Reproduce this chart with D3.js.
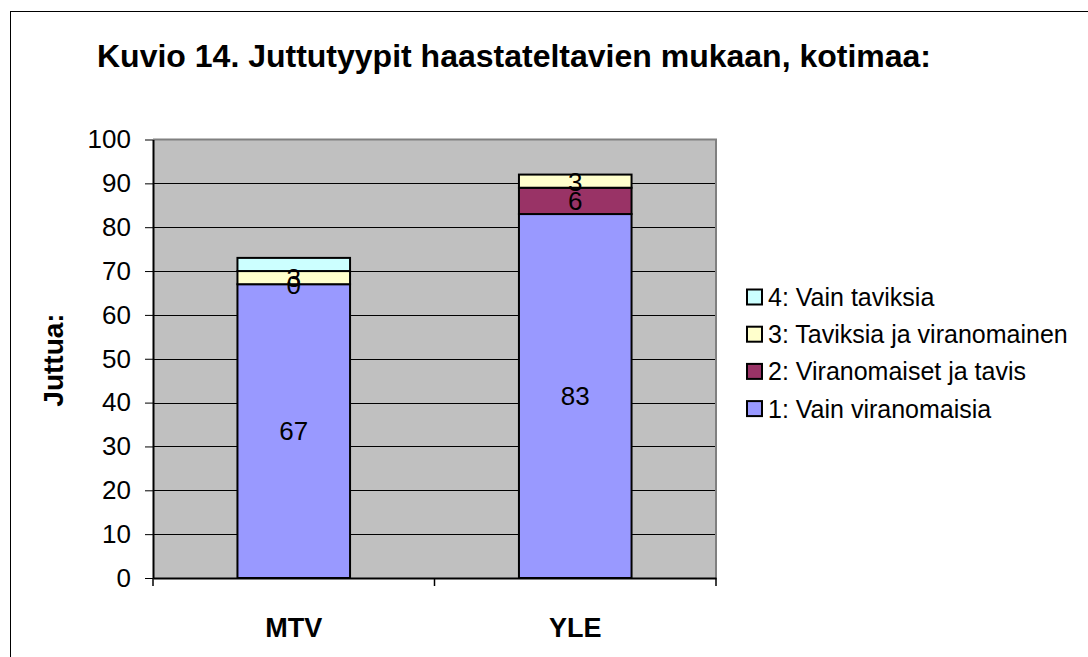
<!DOCTYPE html>
<html>
<head>
<meta charset="utf-8">
<script src="https://cdn.jsdelivr.net/npm/d3@7"></script>
<style>
    body { margin: 0; background: #fff; }
    svg { display: block; font-family: Arial, "Liberation Sans", sans-serif; }
</style>
</head>
<body>
<div class="chart-container"></div>
<script>
// Data
const categories = ['MTV', 'YLE'];
const seriesNames = ['1: Vain viranomaisia', '2: Viranomaiset ja tavis', '3: Taviksia ja viranomainen', '4: Vain taviksia'];
const series1 = [67, 83];
const series2 = [0, 6];
const series3 = [3, 3];
const series4 = [3, 0];
const seriesColors = ['#9999ff', '#993366', '#ffffcc', '#ccffff'];
const labelledSeries = [0, 1, 2];   // series 4 carries no value labels
const yTicks = [0, 10, 20, 30, 40, 50, 60, 70, 80, 90, 100];

// Build rows for d3.stack
const tableData = categories.map((c, i) => ({
    category: c,
    s0: series1[i], s1: series2[i], s2: series3[i], s3: series4[i],
}));
const keys = ['s0', 's1', 's2', 's3'];

const svg_width = 1088;
const svg_height = 657;
const plot = { left: 153, top: 139.5, right: 716, bottom: 578 };

const svg = d3.select('.chart-container').append('svg')
    .attr('width', svg_width).attr('height', svg_height);

// Chart area border (right/bottom edges fall outside the picture)
svg.append('rect')
    .attr('x', 10.5).attr('y', 11.5)
    .attr('width', 1100).attr('height', 700)
    .attr('fill', 'none').attr('stroke', '#000').attr('stroke-width', 1);

// Title
svg.append('text')
    .attr('x', 97).attr('y', 67)
    .style('font-size', '32px').style('font-weight', 'bold')
    .text('Kuvio 14. Juttutyypit haastateltavien mukaan, kotimaa:');

// scales
const xScale = d3.scaleBand().domain(categories)
    .range([plot.left, plot.right]).paddingInner(0.6).paddingOuter(0.3);
const yScale = d3.scaleLinear([0, 100], [plot.bottom, plot.top]);

// Plot area background
svg.append('rect')
    .attr('x', plot.left).attr('y', plot.top)
    .attr('width', plot.right - plot.left).attr('height', plot.bottom - plot.top)
    .attr('fill', '#c0c0c0');

// Gridlines
svg.append('g').selectAll('line')
    .data(yTicks.filter(d => d > 0 && d < 100))
    .enter().append('line')
    .attr('x1', plot.left).attr('x2', plot.right)
    .attr('y1', d => Math.round(yScale(d)) + 0.5).attr('y2', d => Math.round(yScale(d)) + 0.5)
    .attr('stroke', '#000').attr('stroke-width', 1);

// Plot area border (top / right)
svg.append('path')
    .attr('d', `M${plot.left},${plot.top} H${plot.right} V${plot.bottom}`)
    .attr('fill', 'none').attr('stroke', '#808080').attr('stroke-width', 2);

// Stacked bars
const stacked = d3.stack().keys(keys)(tableData);
const layers = svg.append('g').selectAll('g')
    .data(stacked)
    .enter().append('g')
    .attr('fill', (d, i) => seriesColors[i]);

layers.selectAll('rect')
    .data(d => d.filter(p => p[1] - p[0] > 0))
    .enter().append('rect')
    .attr('x', d => xScale(d.data.category))
    .attr('y', d => yScale(d[1]))
    .attr('width', xScale.bandwidth())
    .attr('height', d => yScale(d[0]) - yScale(d[1]))
    .attr('stroke', '#000').attr('stroke-width', 2);

// Value labels
const labels = svg.append('g').attr('class', 'value-labels');
stacked.forEach((layer, i) => {
    if (!labelledSeries.includes(i)) return;
    layer.forEach(p => {
        const v = p[1] - p[0];
        if (i === 1 && p.data.category === 'YLE' || i !== 1 || v === 0) {
            labels.append('text')
                .attr('x', xScale(p.data.category) + xScale.bandwidth() / 2)
                .attr('y', yScale((p[0] + p[1]) / 2))
                .attr('dy', '0.36em')
                .attr('text-anchor', 'middle')
                .style('font-size', '26px')
                .text(v);
        }
    });
});

// Y axis
const yAxis = d3.axisLeft(yScale).tickValues(yTicks).tickSizeInner(8).tickSizeOuter(0).tickPadding(14);
const yAxisDraw = svg.append('g').attr('class', 'y axis')
    .attr('transform', `translate(${plot.left}, 0)`)
    .call(yAxis);
yAxisDraw.select('.domain').attr('stroke', '#000').attr('stroke-width', 2);
yAxisDraw.selectAll('text').style('font-size', '26px').attr('fill', '#000').style('font-family', 'Arial, "Liberation Sans", sans-serif');

// X axis
const xAxis = d3.axisBottom(xScale).tickSize(0).tickPadding(40);
const xAxisDraw = svg.append('g').attr('class', 'x axis')
    .attr('transform', `translate(0, ${plot.bottom})`)
    .call(xAxis);
xAxisDraw.select('.domain').attr('stroke', '#000').attr('stroke-width', 2);
xAxisDraw.selectAll('text')
    .style('font-size', '27px').style('font-weight', 'bold')
    .style('font-family', 'Arial, "Liberation Sans", sans-serif').attr('fill', '#000');
// Category boundary ticks
xAxisDraw.selectAll('.bound')
    .data([plot.left, (plot.left + plot.right) / 2, plot.right])
    .enter().append('line')
    .attr('x1', d => d).attr('x2', d => d)
    .attr('y1', 0).attr('y2', 8)
    .attr('stroke', '#000').attr('stroke-width', 1.5);

// Axis title
svg.append('text')
    .attr('transform', 'translate(63, 360) rotate(-90)')
    .attr('text-anchor', 'middle')
    .style('font-size', '28px').style('font-weight', 'bold')
    .text('Juttua:');

// Legend (reverse order, like the stack)
const legend = svg.append('g').attr('class', 'legend');
const legendItems = legend.selectAll('g')
    .data(seriesNames.map((n, i) => ({ name: n, color: seriesColors[i] })).reverse())
    .enter().append('g')
    .attr('transform', (d, i) => `translate(747, ${297 + i * 37.2})`);
legendItems.append('rect')
    .attr('x', 0).attr('y', -7.5).attr('width', 15).attr('height', 15)
    .attr('fill', d => d.color).attr('stroke', '#000').attr('stroke-width', 2);
legendItems.append('text')
    .attr('x', 21).attr('dy', '0.36em')
    .style('font-size', '25px')
    .text(d => d.name);
</script>
</body>
</html>
